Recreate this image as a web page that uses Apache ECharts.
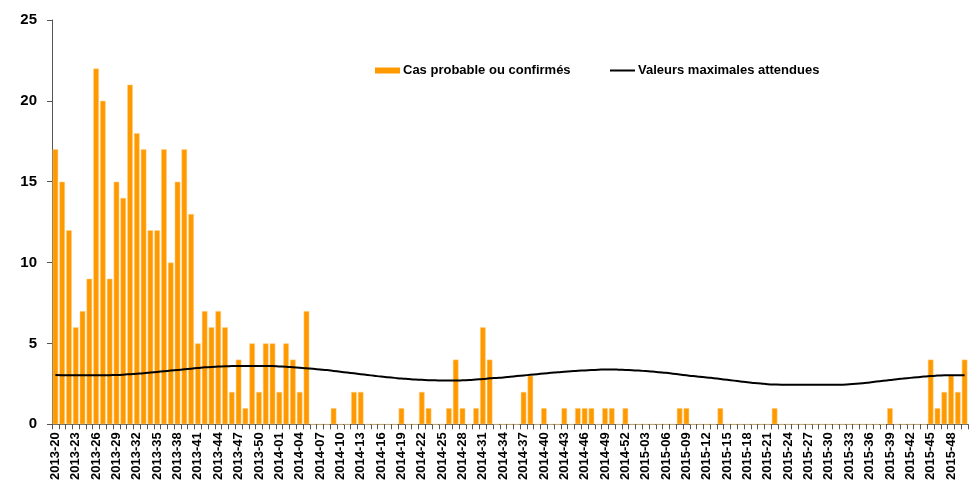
<!DOCTYPE html>
<html><head><meta charset="utf-8">
<script src="https://cdn.jsdelivr.net/npm/echarts@6/dist/echarts.min.js"></script>
<style>html,body{margin:0;padding:0;background:#fff}#c{width:976px;height:483px}</style>
</head><body><div id="c"></div>
<script>
// Weeks 2013-20 .. 2015-50
const weeks2013 = [20,21,22,23,24,25,26,27,28,29,30,31,32,33,34,35,36,37,38,39,40,41,42,43,44,45,46,47,48,49,50,51,52];
const weeks2014 = [1,2,3,4,5,6,7,8,9,10,11,12,13,14,15,16,17,18,19,20,21,22,23,24,25,26,27,28,29,30,31,32,33,34,35,36,37,38,39,40,41,42,43,44,45,46,47,48,49,50,51,52];
const weeks2015 = [1,2,3,4,5,6,7,8,9,10,11,12,13,14,15,16,17,18,19,20,21,22,23,24,25,26,27,28,29,30,31,32,33,34,35,36,37,38,39,40,41,42,43,44,45,46,47,48,49,50];

// Cases: 2013-20 .. 2014-05 (nonzero stretch)
const casesEarly = [17,15,12,6,7,9,22,20,9,15,14,21,18,17,12,12,17,10,15,17,13,5,7,6,7,6,2,4,1,5,2,5,5,2,5,4,2,7];
// Later sporadic cases: week label -> count
const casesLater = {
  "2014-09":1,"2014-12":2,"2014-13":2,"2014-19":1,"2014-22":2,"2014-23":1,
  "2014-26":1,"2014-27":4,"2014-28":1,"2014-30":1,"2014-31":6,"2014-32":4,
  "2014-37":2,"2014-38":3,"2014-40":1,"2014-43":1,"2014-45":1,"2014-46":1,
  "2014-47":1,"2014-49":1,"2014-50":1,"2014-52":1,
  "2015-08":1,"2015-09":1,"2015-14":1,"2015-22":1,"2015-39":1,
  "2015-45":4,"2015-46":1,"2015-47":2,"2015-48":3,"2015-49":2,"2015-50":4
};
// Expected maximum values (one per week)
const expectedMax = [
  3.05,3.04,3.03,3.03,3.03,3.03,3.03,3.03,3.04,3.05,3.07,3.10,3.13,3.16,3.20,3.24,3.28,3.32,3.36,3.40,
  3.44,3.48,3.52,3.55,3.57,3.59,3.60,3.61,3.61,3.61,3.61,3.61,3.60,3.58,3.56,3.53,3.50,3.47,3.43,3.39,
  3.35,3.30,3.25,3.20,3.15,3.10,3.05,3.00,2.95,2.91,2.87,2.83,2.80,2.77,2.75,2.73,2.72,2.71,2.71,2.71,
  2.72,2.74,2.77,2.80,2.84,2.87,2.90,2.94,2.98,3.02,3.06,3.10,3.14,3.18,3.22,3.25,3.28,3.31,3.33,3.35,
  3.37,3.39,3.39,3.38,3.36,3.34,3.32,3.29,3.26,3.22,3.18,3.13,3.08,3.03,2.98,2.94,2.90,2.85,2.80,2.75,
  2.70,2.65,2.60,2.56,2.52,2.48,2.46,2.45,2.45,2.45,2.45,2.45,2.45,2.45,2.45,2.45,2.45,2.47,2.50,2.54,
  2.59,2.64,2.69,2.74,2.79,2.83,2.87,2.91,2.95,2.98,3.01,3.03,3.04,3.04,3.04
];
const yTicks = {min:0, max:25, interval:5};

const pad = n => (n<10?'0':'')+n;
const categories = [
  ...weeks2013.map(w=>'2013-'+pad(w)),
  ...weeks2014.map(w=>'2014-'+pad(w)),
  ...weeks2015.map(w=>'2015-'+pad(w))
];
const cases = categories.map((c,i)=> i<casesEarly.length ? casesEarly[i] : (casesLater[c]||0));

const chart = echarts.init(document.getElementById('c'));
const font = 'Liberation Sans, Arial, sans-serif';
const legendText = {fontFamily:font, fontWeight:'bold', fontSize:13, color:'#000', padding:[0,0,0,-2]};
chart.setOption({
  animation:false,
  textStyle:{fontFamily:font},
  legend:[
    {left:370, top:59, itemWidth:25, itemHeight:6, textStyle:legendText, itemStyle:{borderWidth:0},
     data:[{name:'Cas probable ou confirmés', icon:'rect'}]},
    {left:605, top:59, itemWidth:25, itemHeight:2, textStyle:legendText, itemStyle:{borderWidth:0},
     data:[{name:'Valeurs maximales attendues', icon:'rect'}]}
  ],
  grid:{left:52, right:8, top:20, bottom:57, containLabel:false},
  xAxis:{
    type:'category', data:categories, boundaryGap:true,
    axisLine:{lineStyle:{color:'#555', width:1}},
    axisTick:{show:true, interval:0, length:5, lineStyle:{color:'#555'}},
    axisLabel:{interval:2, rotate:90, fontFamily:font, fontWeight:'bold', fontSize:13, color:'#000', margin:8}
  },
  yAxis:{
    type:'value', min:yTicks.min, max:yTicks.max, interval:yTicks.interval,
    splitLine:{show:false},
    axisLine:{show:true, lineStyle:{color:'#555'}},
    axisTick:{show:true, length:5, lineStyle:{color:'#555'}},
    axisLabel:{fontFamily:font, fontWeight:'bold', fontSize:15, color:'#000', margin:15}
  },
  series:[
    {name:'Cas probable ou confirmés', type:'bar', data:cases, barCategoryGap:'18%',
     itemStyle:{color:'#FF9900', borderColor:'#FFD38A', borderWidth:0.5}},
    {name:'Valeurs maximales attendues', type:'line', data:expectedMax, smooth:true,
     showSymbol:false, symbol:'none', lineStyle:{color:'#000', width:2}, itemStyle:{color:'#000'}}
  ]
});
</script></body></html>
